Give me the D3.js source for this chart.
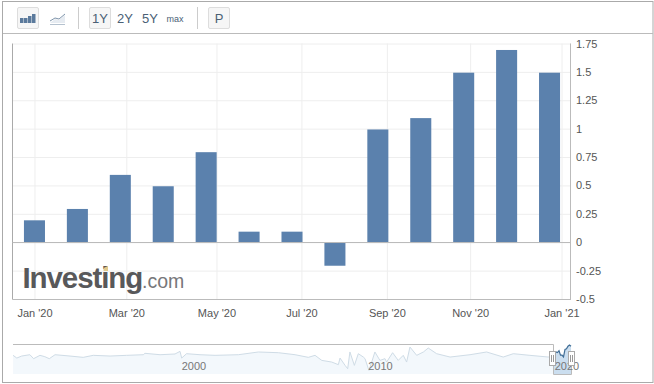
<!DOCTYPE html>
<html>
<head>
<meta charset="utf-8">
<script src="https://cdn.jsdelivr.net/npm/d3@7"></script>
<style>
  html, body { margin: 0; padding: 0; background: #fff; }
  svg { display: block; font-family: "Liberation Sans", Arial, sans-serif; }
  .axis text { fill: #555; font-size: 11px; }
  .axis line { stroke: #eee; }
  .axis path { display: none; }
  .btn text { fill: #4a6075; text-anchor: middle; }
</style>
</head>
<body>
<svg id="chart" width="654" height="384"></svg>
<script>
var months = ["Jan '20","Feb '20","Mar '20","Apr '20","May '20","Jun '20","Jul '20","Aug '20","Sep '20","Oct '20","Nov '20","Dec '20","Jan '21"];
var values = [0.2,0.3,0.6,0.5,0.8,0.1,0.1,-0.2,1,1.1,1.5,1.7,1.5];

var yTicks = [-0.5,-0.25,0,0.25,0.5,0.75,1,1.25,1.5,1.75];
// ticks sit slightly off the bars in the original, so they are kept in bar units
var xTickSpots = [0,2.14,4.24,6.22,8.21,10.15,12.28];
var xTickLabels = ["Jan '20","Mar '20","May '20","Jul '20","Sep '20","Nov '20","Jan '21"];

// navigator history
var navYears = [1990.3,1990.5,1990.76,1991.2,1991.4,1991.74,1992,1992.24,1992.55,1993.35,1994.06,1994.6,1995.5,1996.39,1997.28,1997.37,1998.18,1998.98,1999.25,1999.34,1999.6,2000.32,2001.13,2002.38,2003.45,2004.52,2005.42,2006.13,2006.49,2006.85,2007.38,2007.74,2007.83,2008.1,2008.24,2008.36,2008.6,2008.81,2009.08,2009.17,2009.38,2009.53,2009.7,2009.97,2010.24,2010.33,2010.65,2010.95,2011.22,2011.4,2011.58,2011.94,2012.3,2012.56,2013.01,2013.73,2014.8,2015.69,2016.58,2017.12,2018.01,2019,2019.25];
var navValues = [0.06,-0.37,-0.05,0.16,-0.47,0.06,-0.15,-0.47,0.16,-0.05,-0.26,0.06,-0.05,0.06,0.16,0.38,0.16,0.27,0.69,-0.37,0.32,0.16,0.06,0.16,0.59,0.48,0.16,-0.26,0.06,-0.74,-1,-1.42,-0.37,-1.53,-2.06,0.59,-1.53,0.32,-0.21,-0.47,-2.32,-1,0.59,-0.74,-0.47,-1,0.48,-0.74,0.06,-1,1.38,0.06,0.59,1.22,0.32,-0.21,0.16,0.59,-0.21,0.32,0.06,-0.21,0.2];
var navYearTicks = [2000,2010,2020];

var svg = d3.select("#chart");

// outer frame and toolbar line
svg.append("rect").attr("x",2.5).attr("y",1.5).attr("width",650.5).attr("height",381)
  .attr("fill","#fff").attr("stroke","#aaa");
svg.append("line").attr("x1",3).attr("x2",653).attr("y1",33.5).attr("y2",33.5).attr("stroke","#bbb");

// toolbar
var bar = svg.append("g").attr("class","btn");
[[17,7],[89,7],[208,7]].forEach(function(b){
  bar.append("rect").attr("x",b[0]+0.5).attr("y",b[1]+0.5).attr("width",21).attr("height",21).attr("rx",1.5)
    .attr("fill","#f6f6f6").attr("stroke","#ddd");
});
[[78.5],[197.5]].forEach(function(s){
  bar.append("line").attr("x1",s[0]).attr("x2",s[0]).attr("y1",7).attr("y2",29).attr("stroke","#ccc");
});
[["1Y",100,13],["2Y",125,13],["5Y",150,13],["max",175,9],["P",219,13]].forEach(function(t){
  bar.append("text").attr("x",t[1]).attr("y",t[2]==13?23:21.5).style("font-size",t[2]+"px").text(t[0]);
});
// bar icon
[20,24,28,32].forEach(function(bx,i){
  var h = [5,5,7,9][i];
  bar.append("rect").attr("x",bx).attr("y",23-h).attr("width",3.5).attr("height",h).attr("fill","#5b7a9c");
});
// line icon
bar.append("path").attr("d","M50,23 L55,19 L59,20 L65,15 L65,23 Z").attr("fill","#e6ebf1");
bar.append("path").attr("d","M50,21 L55,18 L59,19 L65,14").attr("fill","none").attr("stroke","#7f95ab");
bar.append("line").attr("x1",50).attr("x2",65).attr("y1",24.5).attr("y2",24.5).attr("stroke","#b5c2cf");

// main plot
var left = 13, right = 571, top_ = 43.5, bottom = 299;
var x = d3.scaleLinear().domain([-0.5,12.5]).range([left,right]);
var y = d3.scaleLinear().domain([-0.5,1.75]).range([bottom,top_]);

svg.append("g").attr("class","axis")
  .attr("transform","translate(" + right + ",0)")
  .call(d3.axisRight(y).tickValues(yTicks).tickFormat(function(d){ return String(d); })
    .tickSizeInner(-(right-left)).tickSizeOuter(0).tickPadding(5));

svg.append("g").attr("class","axis")
  .attr("transform","translate(0," + bottom + ")")
  .call(d3.axisBottom(x).tickValues(xTickSpots)
    .tickFormat(function(d,i){ return xTickLabels[i]; })
    .tickSizeInner(-(bottom-top_)).tickSizeOuter(0).tickPadding(10));

var barW = x(0.49) - x(0);
// bars land about a pixel lower than the gridlines in the original
svg.append("g").attr("transform","translate(0,0.8)")
  .selectAll("rect").data(values).enter().append("rect")
  .attr("x",function(d,i){ return x(i) - barW/2; })
  .attr("y",function(d){ return y(Math.max(d,0)); })
  .attr("width",barW)
  .attr("height",function(d){ return Math.abs(y(d)-y(0)); })
  .attr("fill","#5b81ad")
  .attr("data-month",function(d,i){ return months[i]; });

// plot borders
var lines = svg.append("g").attr("stroke-width",1);
lines.append("line").attr("x1",12.5).attr("x2",12.5).attr("y1",top_).attr("y2",bottom+0.5).attr("stroke","#aaa");
lines.append("line").attr("x1",right-0.5).attr("x2",right-0.5).attr("y1",top_).attr("y2",bottom+0.5).attr("stroke","#bbb");
lines.append("line").attr("x1",12.5).attr("x2",right).attr("y1",bottom+0.5).attr("y2",bottom+0.5).attr("stroke","#bbb");
lines.append("line").attr("x1",12.5).attr("x2",right).attr("y1",Math.round(y(0))+0.5).attr("y2",Math.round(y(0))+0.5).attr("stroke","#bbb");

// logo
var logo = svg.append("text").attr("x",22.5).attr("y",288).attr("fill","#58585a");
logo.append("tspan").style("font-size","29.5px").style("font-weight","bold").style("letter-spacing","-1.1px").text("Investing");
logo.append("tspan").style("font-size","19.5px").attr("fill","#77777a").text(".com");
svg.append("path").attr("d","M103.5,268 L108,266 L108,271 L103.5,271 Z").attr("fill","#e0c98c");

// navigator
var navBase = 374;
var navX = d3.scaleLinear().domain([2000,2010]).range([194,380.5]);
var navY = d3.scaleLinear().domain([-2.9,1.7]).range([navBase,345]);
var selX = d3.scaleLinear().domain([0,12]).range([553,571]);

var navArea = d3.area().x(function(d,i){ return navX(navYears[i]); }).y0(navBase).y1(function(d){ return navY(d); });
var navLine = d3.line().x(function(d,i){ return navX(navYears[i]); }).y(function(d){ return navY(d); });
svg.append("path").datum(navValues).attr("d",navArea).attr("fill","#f3f8fc");
svg.append("path").datum(navValues).attr("d",navLine).attr("fill","none").attr("stroke","#cfdce6").attr("stroke-width",1);

svg.append("path").attr("d","M13," + 344.5 + " L553.5,344.5 L553.5,351").attr("fill","none").attr("stroke","#bbb");

var selArea = d3.area().x(function(d,i){ return selX(i); }).y0(navBase).y1(function(d){ return navY(d); });
var selLine = d3.line().x(function(d,i){ return selX(i); }).y(function(d){ return navY(d); });
svg.append("path").datum(values).attr("d",selArea).attr("fill","#cbdeef");
svg.append("path").attr("d","M553.5,351 L553.5,374.5 L571.5,374.5 L571.5,351").attr("fill","none").attr("stroke","#bbb");
svg.append("path").datum(values).attr("d",selLine).attr("fill","none").attr("stroke","#3f6d96").attr("stroke-width",1.2);

svg.append("g").selectAll("text").data(navYearTicks).enter().append("text")
  .attr("x",function(d){ return navX(d); }).attr("y",370)
  .attr("text-anchor","middle").attr("fill","#777").style("font-size","11px")
  .text(function(d){ return d; });

[549.5,568.5].forEach(function(hx){
  var h = svg.append("g");
  h.append("rect").attr("x",hx).attr("y",351.5).attr("width",6).attr("height",14).attr("fill","#fff").attr("stroke","#aaa");
  h.append("line").attr("x1",hx+2).attr("x2",hx+2).attr("y1",355).attr("y2",362).attr("stroke","#999");
  h.append("line").attr("x1",hx+4).attr("x2",hx+4).attr("y1",355).attr("y2",362).attr("stroke","#999");
});
</script>
</body>
</html>
